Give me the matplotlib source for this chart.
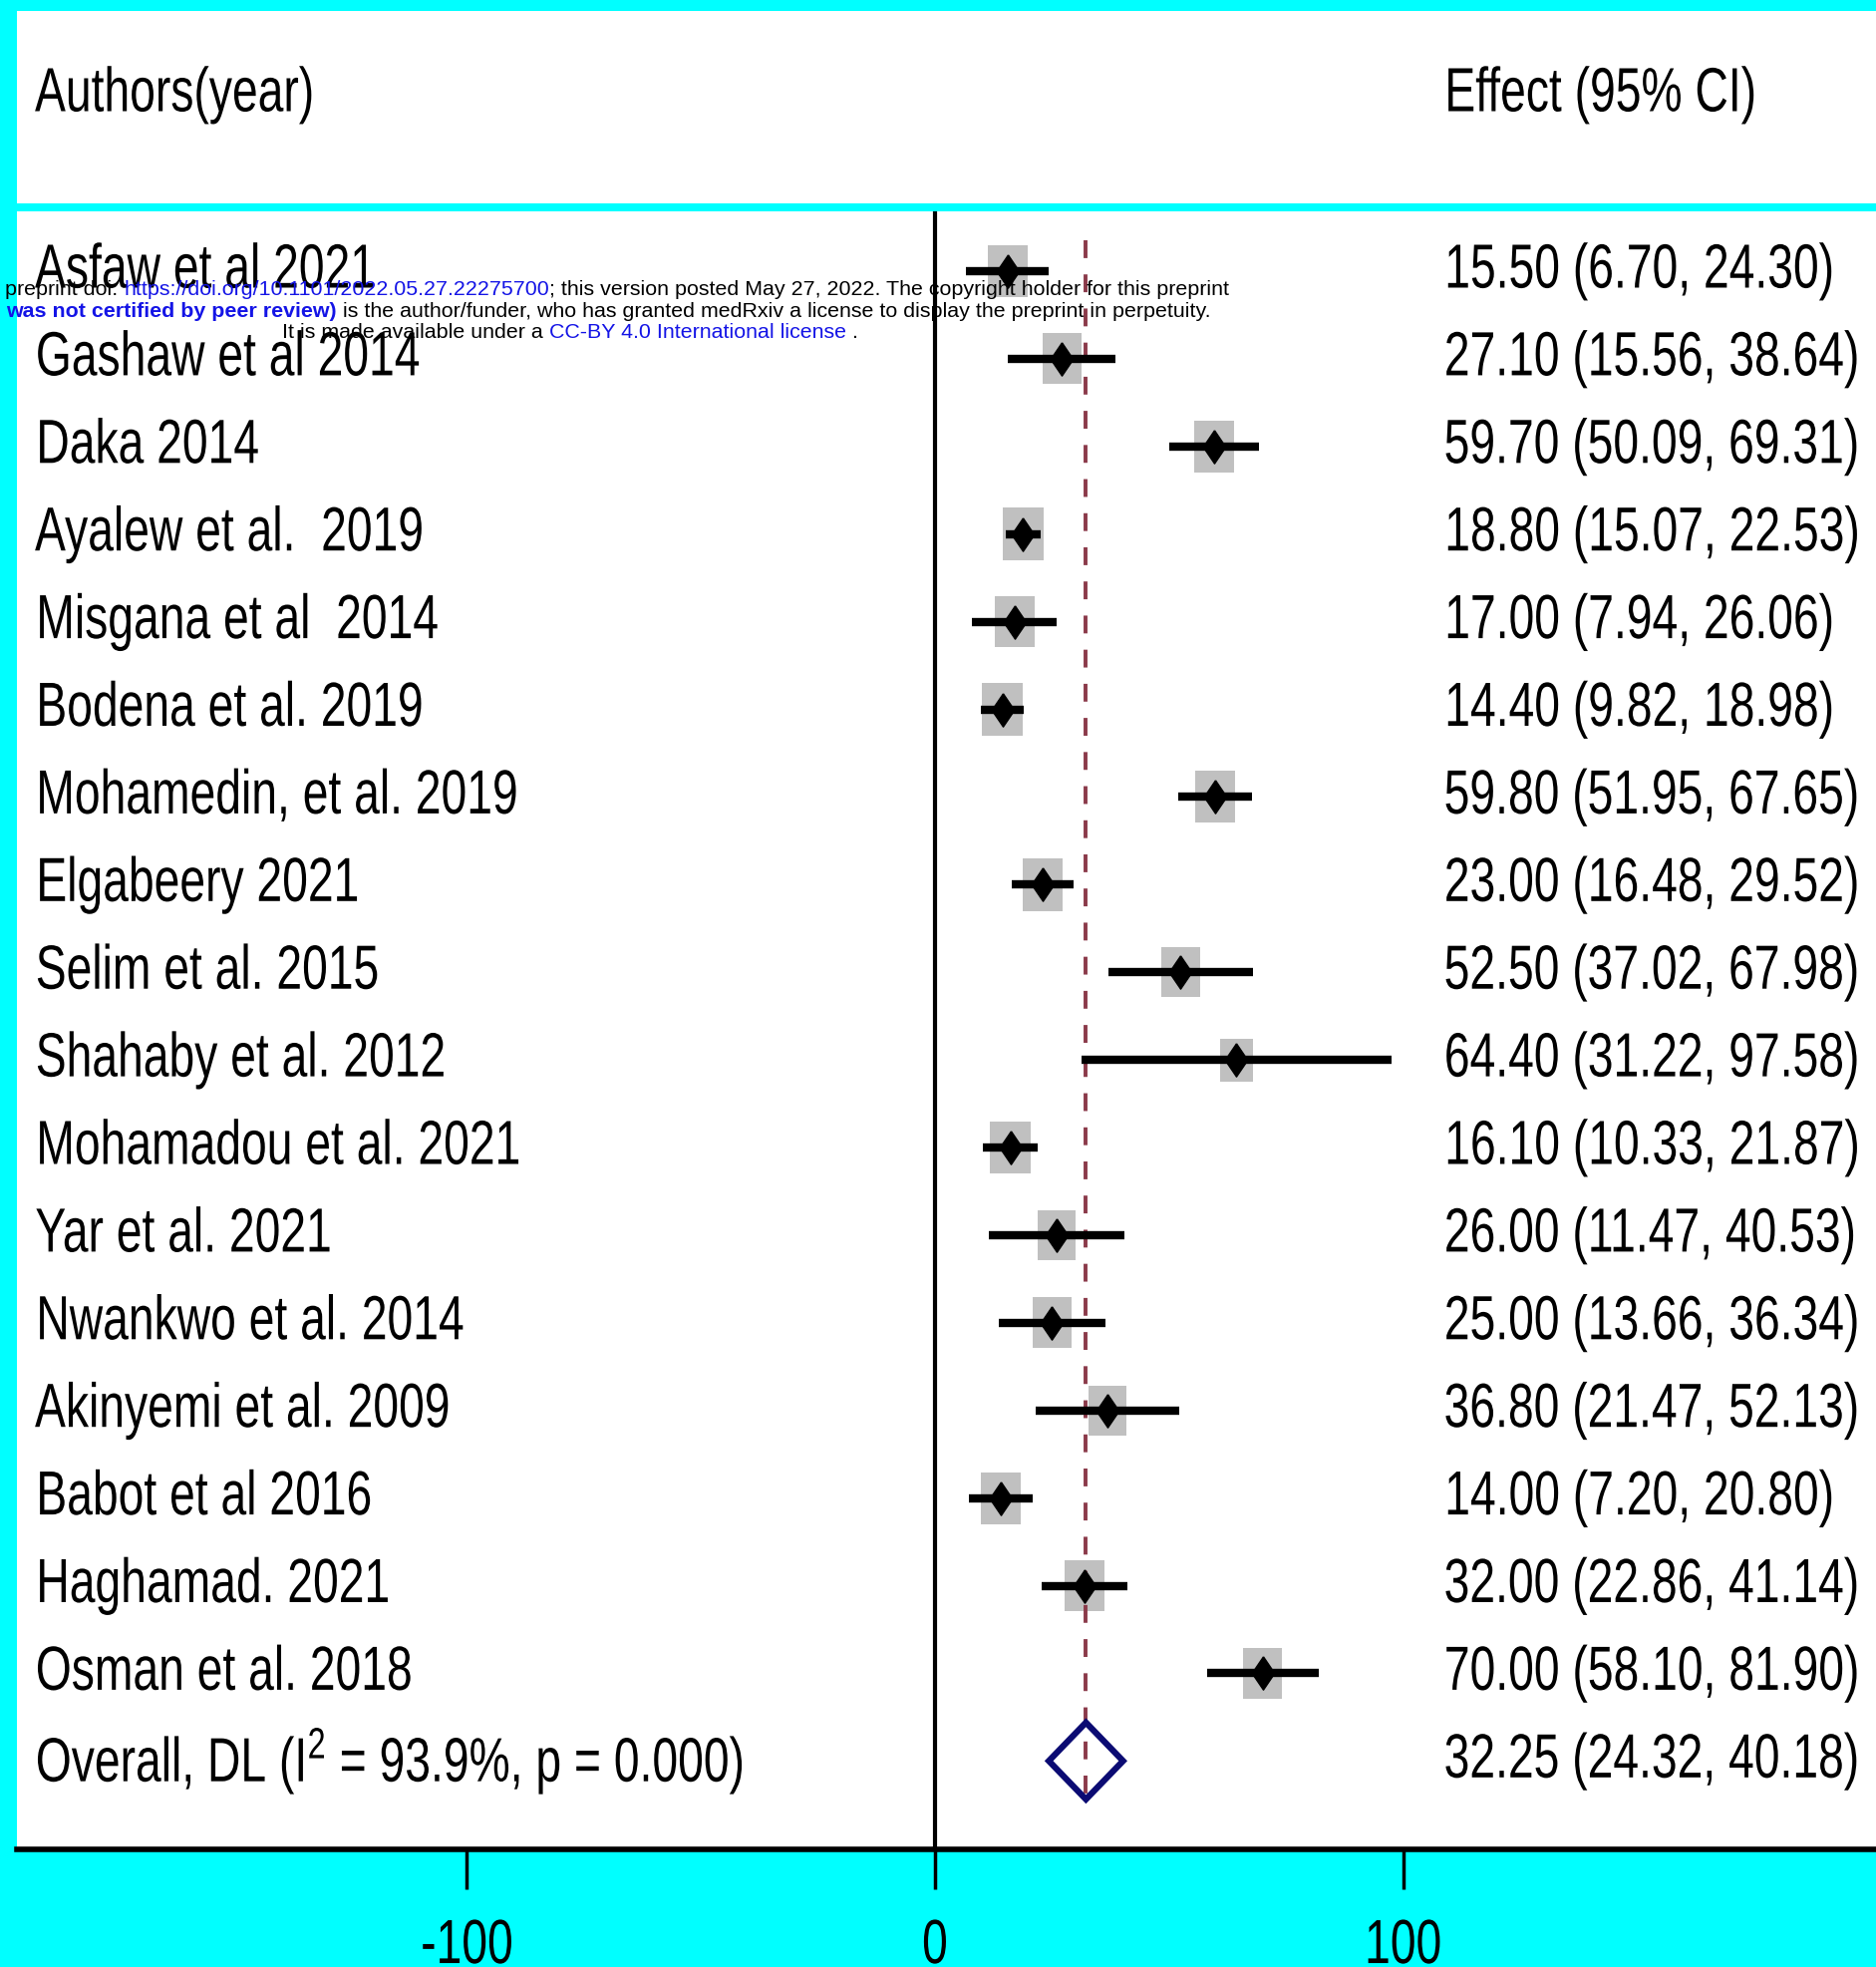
import matplotlib
matplotlib.use("Agg")
import matplotlib.pyplot as plt
from matplotlib import font_manager
from matplotlib.patches import Rectangle, Polygon
from matplotlib.patheffects import AbstractPathEffect
from matplotlib.transforms import Affine2D

# data
studies = ["Asfaw et al 2021", "Gashaw et al 2014", "Daka 2014", "Ayalew et al.  2019",
           "Misgana et al  2014", "Bodena et al. 2019", "Mohamedin, et al. 2019",
           "Elgabeery 2021", "Selim et al. 2015", "Shahaby et al. 2012",
           "Mohamadou et al. 2021", "Yar et al. 2021", "Nwankwo et al. 2014",
           "Akinyemi et al. 2009", "Babot et al 2016", "Haghamad. 2021", "Osman et al. 2018"]
est = [15.50, 27.10, 59.70, 18.80, 17.00, 14.40, 59.80, 23.00, 52.50, 64.40,
       16.10, 26.00, 25.00, 36.80, 14.00, 32.00, 70.00]
lo = [6.70, 15.56, 50.09, 15.07, 7.94, 9.82, 51.95, 16.48, 37.02, 31.22,
      10.33, 11.47, 13.66, 21.47, 7.20, 22.86, 58.10]
hi = [24.30, 38.64, 69.31, 22.53, 26.06, 18.98, 67.65, 29.52, 67.98, 97.58,
      21.87, 40.53, 36.34, 52.13, 20.80, 41.14, 81.90]
# approx. random-effects weights (%), from the box sizes
weights = [5.9, 5.8, 5.9, 6.3, 5.9, 6.2, 6.0, 6.1, 5.5, 4.1,
           6.1, 5.6, 5.8, 5.5, 6.0, 5.9, 5.7]
overall_label = r"Overall, DL (I$^{2}$ = 93.9%, p = 0.000)"
overall = [32.25, 24.32, 40.18]
xticks = [-100, 0, 100]

W, H = 1883, 1974
CYAN = "#00ffff"
LEFT = 17                  # width of the cyan strip on the left
X0, PPU = 938, 4.695       # pixel of x=0, pixels per unit
ROW0, ROWH = 273, 87.9     # pixel of first row, row spacing
FS = 45


class Squeeze(AbstractPathEffect):
    def __init__(self, sx, anchor="left"):
        super().__init__()
        self.sx = sx
        self.anchor = anchor

    def draw_path(self, renderer, gc, tpath, affine, rgbFace=None):
        ext = tpath.get_extents()
        x0 = ext.x0 if self.anchor == "left" else (ext.x0 + ext.x1) / 2
        t = Affine2D().translate(-x0, 0).scale(self.sx, 1).translate(x0, 0)
        renderer.draw_path(gc, tpath, t + affine, rgbFace)


# a narrow face if there is one, otherwise squeeze the regular one more
try:
    font_manager.findfont(font_manager.FontProperties(family="Liberation Sans Narrow"),
                          fallback_to_default=False)
    MAIN = "Liberation Sans Narrow"
    SX = 0.74 / 0.82
except ValueError:
    MAIN = "Liberation Sans"
    SX = 0.74

plt.rcParams["font.family"] = ["Liberation Sans", "DejaVu Sans"]
plt.rcParams["mathtext.fontset"] = "custom"
plt.rcParams["mathtext.rm"] = MAIN
plt.rcParams["mathtext.it"] = MAIN
plt.rcParams["axes.unicode_minus"] = False

fig = plt.figure(figsize=(W / 100, H / 100), dpi=100, facecolor=CYAN)

# header panel
fig.patches.append(Rectangle((LEFT / W, 1 - 205 / H), 1, (205 - 12) / H,
                             transform=fig.transFigure, facecolor="white",
                             edgecolor="none", zorder=0))
sq = [Squeeze(SX)]
fig.text(35 / W, 1 - 96 / H, "Authors(year)", fontsize=FS, va="center",
         family=MAIN, path_effects=sq)
fig.text(1448 / W, 1 - 96 / H, "Effect (95% CI)", fontsize=FS, va="center",
         family=MAIN, path_effects=sq)

ax = fig.add_axes([LEFT / W, 1 - 1856 / H, (W - LEFT) / W, (1856 - 213) / H])
ax.set_facecolor("white")
ax.set_xlim((LEFT - X0) / PPU, (W - X0) / PPU)
ax.set_ylim((1856 - ROW0) / ROWH, (213 - ROW0) / ROWH)

n = len(studies)
lab_x = (35 - X0) / PPU
eff_x = (1448 - X0) / PPU

ax.axvline(0, color="black", lw=3, zorder=1.5)

for i in range(n):
    side = 40 * (weights[i] / 6.0) ** 0.5
    bw = side / PPU
    bh = side * 1.3 / ROWH
    ax.add_patch(Rectangle((est[i] - bw / 2, i - bh / 2), bw, bh,
                           facecolor="#c0c0c0", edgecolor="none", zorder=2))
    ax.plot([lo[i], hi[i]], [i, i], color="black", lw=6,
            solid_capstyle="butt", zorder=3)
    ax.plot(est[i], i, marker=[(0, 1), (0.68, 0), (0, -1), (-0.68, 0), (0, 1)],
            ms=24, color="black", zorder=4)
    ax.text(lab_x, i, studies[i], fontsize=FS, va="center", ha="left",
            family=MAIN, path_effects=sq)
    ax.text(eff_x, i, f"{est[i]:.2f} ({lo[i]:.2f}, {hi[i]:.2f})", fontsize=FS,
            va="center", ha="left", family=MAIN, path_effects=sq)

# overall row
yo = n
h = 38.5 / ROWH
ax.add_patch(Polygon([(overall[1], yo), (overall[0], yo - h), (overall[2], yo),
                      (overall[0], yo + h)], closed=True, facecolor="none",
                     edgecolor="#0b0b73", lw=4.5, joinstyle="miter", zorder=3))
ax.text(lab_x, yo, overall_label, fontsize=FS, va="center", ha="left",
        family=MAIN, path_effects=sq)
ax.text(eff_x, yo, f"{overall[0]:.2f} ({overall[1]:.2f}, {overall[2]:.2f})",
        fontsize=FS, va="center", ha="left", family=MAIN, path_effects=sq)

ax.plot([overall[0], overall[0]], [(242 - ROW0) / ROWH, (1812 - ROW0) / ROWH],
        color="#8b3a4a", lw=2.8, linestyle=(0, (4.6, 4.2)), zorder=2.5)

for s in ["top", "left", "right"]:
    ax.spines[s].set_visible(False)
ax.spines["bottom"].set_linewidth(4)
ax.set_yticks([])
ax.set_xticks(xticks)
ax.set_xticklabels([str(t) for t in xticks])
ax.tick_params(axis="x", length=29, width=2.5, pad=20, labelsize=FS)
for lbl in ax.get_xticklabels():
    lbl.set_family(MAIN)
    lbl.set_path_effects([Squeeze(SX, "center")])

# medRxiv watermark lines
BLUE = "#1414e6"
wfs = 15.4


def chain(x, y, parts):
    prev = ax.text(x / W, 1 - y / H, parts[0][0], color=parts[0][1],
                   fontweight=parts[0][2], fontsize=wfs, va="bottom",
                   transform=fig.transFigure, zorder=20)
    for txt, col, fw in parts[1:]:
        prev = ax.annotate(txt, xy=(1, 0), xycoords=prev, va="bottom",
                           ha="left", color=col, fontweight=fw, fontsize=wfs,
                           zorder=20)


chain(5, 300, [("preprint doi: ", "black", "normal"),
               ("https://doi.org/10.1101/2022.05.27.22275700", BLUE, "normal"),
               ("; this version posted May 27, 2022. The copyright holder for this preprint",
                "black", "normal")])
chain(6, 322, [("was not certified by peer review)", BLUE, "bold"),
               (" is the author/funder, who has granted medRxiv a license to display the preprint in perpetuity.",
                "black", "normal")])
chain(283, 343, [("It is made available under a", "black", "normal"),
                 (" CC-BY 4.0 International license", BLUE, "normal"),
                 (" .", "black", "normal")])

fig.savefig("out.png", dpi=100, facecolor=CYAN)
